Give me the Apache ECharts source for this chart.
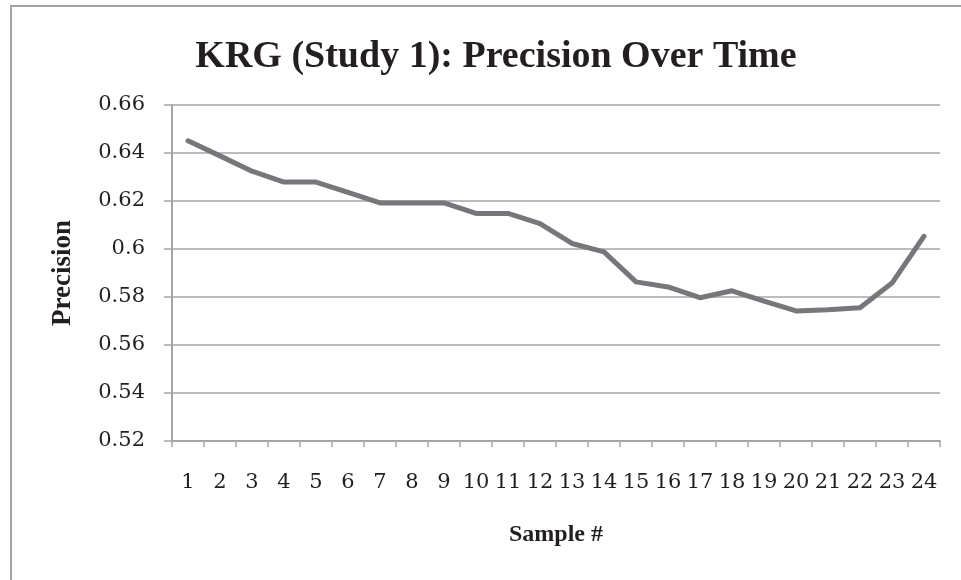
<!DOCTYPE html>
<html>
<head>
<meta charset="utf-8">
<script src="https://cdn.jsdelivr.net/npm/echarts@6/dist/echarts.min.js"></script>
<style>
  html, body { margin: 0; padding: 0; background: #fff; }
  #chart { width: 961px; height: 580px; }
</style>
</head>
<body>
<div id="chart"></div>
<script>
const samples = ['1','2','3','4','5','6','7','8','9','10','11','12','13','14','15','16','17','18','19','20','21','22','23','24'];
const precision = [0.6451, 0.6388, 0.6324, 0.6279, 0.6279, 0.6236, 0.6192, 0.6192, 0.6192, 0.6148, 0.6148, 0.6106,
                   0.6023, 0.5988, 0.5863, 0.5842, 0.5797, 0.5826, 0.5783, 0.5742, 0.5747, 0.5755, 0.5858, 0.6053];
const yTicks = [0.52, 0.54, 0.56, 0.58, 0.6, 0.62, 0.64, 0.66];

const font = 'Liberation Serif';
const labelFont = 'DejaVu Serif';
const chart = echarts.init(document.getElementById('chart'));

const option = {
  backgroundColor: '#fff',
  animation: false,
  title: {
    text: 'KRG (Study 1): Precision Over Time',
    left: 491,
    textAlign: 'center',
    top: 33,
    textStyle: { fontFamily: font, fontWeight: 'bold', fontSize: 38, color: '#231f20' }
  },
  graphic: [{
    type: 'rect',
    shape: { x: 11, y: 6, width: 1000, height: 700 },
    style: { fill: 'none', stroke: '#a3a3a3', lineWidth: 2 },
    silent: true
  }],
  grid: { left: 172, right: 21, top: 105, bottom: 139 },
  xAxis: {
    type: 'category',
    data: samples,
    boundaryGap: true,
    name: 'Sample #',
    nameLocation: 'middle',
    nameGap: 82,
    nameTextStyle: { fontFamily: font, fontWeight: 'bold', fontSize: 24, color: '#231f20' },
    axisLine: { lineStyle: { color: '#a6a6a6', width: 2 } },
    axisTick: { show: true, alignWithLabel: false, length: 6, lineStyle: { color: '#a6a6a6', width: 1.5 } },
    axisLabel: { fontFamily: labelFont, fontSize: 21, color: '#231f20', margin: 31, interval: 0 },
    splitLine: { show: false }
  },
  yAxis: {
    type: 'value',
    min: yTicks[0],
    max: yTicks[yTicks.length - 1],
    interval: 0.02,
    name: 'Precision',
    nameLocation: 'middle',
    nameGap: 95,
    nameTextStyle: { fontFamily: font, fontWeight: 'bold', fontSize: 27, color: '#231f20' },
    axisLine: { show: true, lineStyle: { color: '#a6a6a6', width: 2 } },
    axisTick: { show: true, length: 8, lineStyle: { color: '#a6a6a6', width: 1.5 } },
    axisLabel: {
      fontFamily: labelFont, fontSize: 21, color: '#231f20', margin: 27,
      formatter: v => String(parseFloat(v.toFixed(2)))
    },
    splitLine: { lineStyle: { color: '#a6a6a6', width: 1.5 } }
  },
  series: [{
    name: 'Precision',
    type: 'line',
    data: precision,
    symbol: 'none',
    lineStyle: { color: '#76777a', width: 5, cap: 'round', join: 'round' }
  }]
};

chart.setOption(option);
</script>
</body>
</html>
